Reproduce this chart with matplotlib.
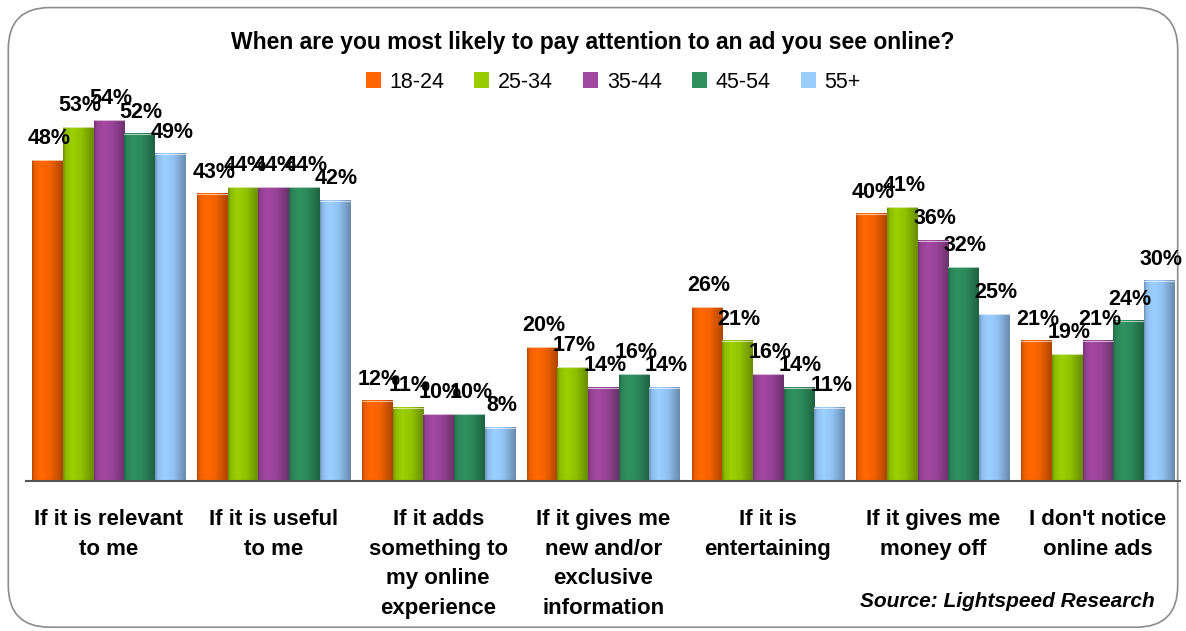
import numpy as np
import matplotlib.pyplot as plt
from matplotlib.patches import FancyBboxPatch, Patch
from matplotlib.colors import to_rgb

# Survey answers (percent of respondents) by age band
categories = ["If it is relevant\nto me", "If it is useful\nto me",
              "If it adds\nsomething to\nmy online\nexperience",
              "If it gives me\nnew and/or\nexclusive\ninformation",
              "If it is\nentertaining", "If it gives me\nmoney off",
              "I don't notice\nonline ads"]
age_groups = ["18-24", "25-34", "35-44", "45-54", "55+"]
age_18_24 = [48, 43, 12, 20, 26, 40, 21]
age_25_34 = [53, 44, 11, 17, 21, 41, 19]
age_35_44 = [54, 44, 10, 14, 16, 36, 21]
age_45_54 = [52, 44, 10, 16, 14, 32, 24]
age_55_up = [49, 42, 8, 14, 11, 25, 30]
series = [age_18_24, age_25_34, age_35_44, age_45_54, age_55_up]
colors = ["#FF6600", "#99CC00", "#A0479F", "#2E8F5F", "#99CCFF"]

plt.rcParams['font.family'] = ['Liberation Sans', 'DejaVu Sans']

fig = plt.figure(figsize=(11.86, 6.31), dpi=100)
fig.patch.set_facecolor('white')

# rounded frame around the whole chart
frame = FancyBboxPatch((0.007, 0.006), 0.986, 0.982, boxstyle="round,pad=0,rounding_size=0.035",
                       transform=fig.transFigure, facecolor='none', edgecolor='#8c8c8c',
                       linewidth=1.2, mutation_aspect=1186 / 631, zorder=-1)
fig.patches.append(frame)

ax = fig.add_axes([0.022, 0.2377, 0.973, 0.635])

n = len(series)
bar_w = 0.182
profile = np.linspace(0, 1, 60)
# shading across each bar: dark edge, bright band left of centre, darker right side
shade = np.interp(profile, [0, 0.08, 0.3, 0.6, 0.9, 1.0], [0.72, 0.92, 1.02, 0.95, 0.75, 0.68])

x = np.arange(len(categories))
for i, (vals, col) in enumerate(zip(series, colors)):
    base = np.array(to_rgb(col))
    grad = np.clip(base[None, :] * shade[:, None], 0, 1)[None, :, :]
    offs = x + (i - (n - 1) / 2) * (bar_w + 0.004)
    for xc, v in zip(offs, vals):
        ax.imshow(grad, extent=(xc - bar_w / 2, xc + bar_w / 2, 0, v), aspect='auto',
                  interpolation='bilinear', zorder=2)
        ax.plot([xc - bar_w / 2, xc + bar_w / 2], [v, v], color='white', lw=0.8, alpha=0.6, zorder=3)
        ax.annotate(f"{v}%", (xc + 0.012, v), xytext=(0, 8), textcoords='offset points',
                    ha='center', va='bottom', fontsize=15.5, fontweight='bold', zorder=4)

ax.set_xlim(-0.5, len(categories) - 0.5)
ax.set_ylim(0, 60)
ax.set_xticks(x)
ax.set_xticklabels(categories, fontsize=16, fontweight='bold', linespacing=1.55, va='top')
ax.tick_params(axis='x', length=0, pad=20)
ax.set_yticks([])
for side in ['top', 'right', 'left']:
    ax.spines[side].set_visible(False)
ax.spines['bottom'].set_color('#555555')
ax.spines['bottom'].set_linewidth(1.5)
ax.patch.set_alpha(0)

fig.text(0.5, 0.932, "When are you most likely to pay attention to an ad you see online?",
         ha='center', va='center', fontsize=16.5, fontweight='bold')

handles = [Patch(facecolor=c, edgecolor='none') for c in colors]
fig.legend(handles, age_groups, loc='center', bbox_to_anchor=(0.517, 0.87), ncol=5,
           frameon=False, fontsize=15.5, handlelength=0.7, handleheight=0.7,
           handletextpad=0.4, columnspacing=1.4)

fig.text(0.974, 0.047, "Source: Lightspeed Research", ha='right', va='center',
         fontsize=15, fontweight='bold', fontstyle='italic')

fig.savefig("out.png", dpi=100)
